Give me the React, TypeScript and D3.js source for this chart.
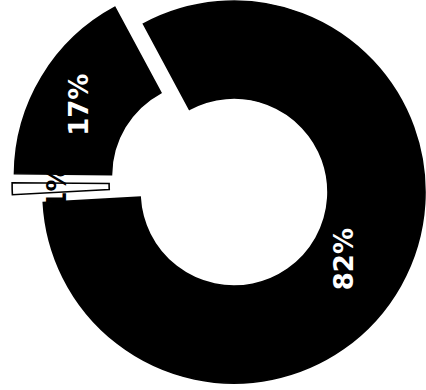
import React from "react";
import * as d3 from "d3";

const categories = ["A", "B", "C"];
const values = [82, 1, 17];
const labels = ["82%", "1%", "17%"];
const fills = ["#000000", "#ffffff", "#000000"];
const textColors = ["#ffffff", "#000000", "#ffffff"];

const W = 426;
const H = 390;
const CX = 219.6;
const CY = 184;
const R = 191;
const r = 94;
const EXPLODE = 16.5;
const LABEL_R = 137;
const START = (-28.3 * Math.PI) / 180;

export default function App() {
  const pie = d3
    .pie<number>()
    .sort(null)
    .startAngle(START)
    .endAngle(START + 2 * Math.PI);
  const arcs = pie(values);
  const arc = d3.arc<d3.PieArcDatum<number>>().innerRadius(r).outerRadius(R);
  const labelArc = d3
    .arc<d3.PieArcDatum<number>>()
    .innerRadius(LABEL_R)
    .outerRadius(LABEL_R);

  return (
    <svg
      width={W}
      height={H}
      style={{ position: "absolute", left: 0, top: 0, background: "#fff" }}
    >
      <g transform={`translate(${CX},${CY})`}>
        {arcs.map((a, i) => {
          const mid = (a.startAngle + a.endAngle) / 2;
          const ox = EXPLODE * Math.sin(mid);
          const oy = -EXPLODE * Math.cos(mid);
          const [lx, ly] = labelArc.centroid(a);
          return (
            <g key={categories[i]} transform={`translate(${ox},${oy})`}>
              <path
                d={arc(a) || ""}
                fill={fills[i]}
                stroke="#000"
                strokeWidth={1.6}
              />
              <text
                transform={`translate(${lx},${ly}) rotate(-90)`}
                textAnchor="middle"
                fill={textColors[i]}
                fontFamily="DejaVu Sans"
                fontWeight="bold"
                fontSize={26}
              >
                {labels[i]}
              </text>
            </g>
          );
        })}
      </g>
    </svg>
  );
}
